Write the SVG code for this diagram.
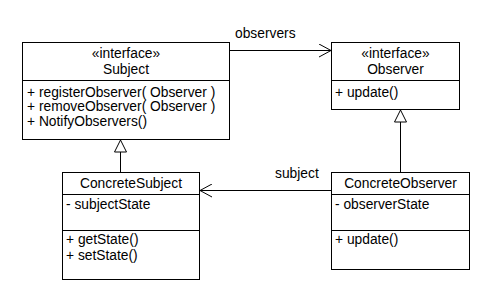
<svg xmlns="http://www.w3.org/2000/svg" width="490" height="300" viewBox="0 0 490 300">
<style>
.box{fill:#fff;stroke:#000;stroke-width:1}
.ln{stroke:#000;stroke-width:1;fill:none}
text{font-family:"Liberation Sans",Arial,sans-serif;font-size:13.8px;fill:#000}
.c{text-anchor:middle}
</style>
<defs>
<marker id="open" viewBox="0 0 12 14" refX="12" refY="7" markerWidth="12" markerHeight="14" markerUnits="userSpaceOnUse" orient="auto">
<path d="M0,0.5 L12,7 L0,13.5" fill="none" stroke="#000" stroke-width="1"/>
</marker>
<marker id="tri" viewBox="0 0 14 14" refX="13" refY="7" markerWidth="14" markerHeight="14" markerUnits="userSpaceOnUse" orient="auto">
<path d="M1,1 L13,7 L1,13 Z" fill="#fff" stroke="#000" stroke-width="1"/>
</marker>
</defs>
<rect width="490" height="300" fill="#fff"/>
<g id="connectors">
<line class="ln" x1="229.5" y1="50.5" x2="331" y2="50.5" marker-end="url(#open)"/>
<text x="235" y="38">observers</text>
<line class="ln" x1="331.5" y1="190.5" x2="200" y2="190.5" marker-end="url(#open)"/>
<text x="275" y="178">subject</text>
<line class="ln" x1="120.5" y1="172" x2="120.5" y2="140" marker-end="url(#tri)"/>
<line class="ln" x1="400.5" y1="172" x2="400.5" y2="110" marker-end="url(#tri)"/>
</g>
<g id="Subject">
<rect class="box" x="22.5" y="42.5" width="207" height="97"/>
<line class="ln" x1="22.5" y1="80.5" x2="229.5" y2="80.5"/>
<text class="c" x="126" y="58">«interface»</text>
<text class="c" x="126" y="74">Subject</text>
<text x="27" y="96.5">+ registerObserver( Observer )</text>
<text x="27" y="111">+ removeObserver( Observer )</text>
<text x="27" y="125.5">+ NotifyObservers()</text>
</g>
<g id="Observer">
<rect class="box" x="331.5" y="42.5" width="128" height="67"/>
<line class="ln" x1="331.5" y1="80.5" x2="459.5" y2="80.5"/>
<text class="c" x="395.5" y="58">«interface»</text>
<text class="c" x="395.5" y="74">Observer</text>
<text x="335" y="96.5">+ update()</text>
</g>
<g id="ConcreteSubject">
<rect class="box" x="62.5" y="172.5" width="137" height="107"/>
<line class="ln" x1="62.5" y1="194.5" x2="199.5" y2="194.5"/>
<line class="ln" x1="62.5" y1="230.5" x2="199.5" y2="230.5"/>
<text class="c" x="131" y="188">ConcreteSubject</text>
<text x="66" y="209">- subjectState</text>
<text x="66" y="244">+ getState()</text>
<text x="66" y="260">+ setState()</text>
</g>
<g id="ConcreteObserver">
<rect class="box" x="331.5" y="172.5" width="138" height="97"/>
<line class="ln" x1="331.5" y1="194.5" x2="469.5" y2="194.5"/>
<line class="ln" x1="331.5" y1="230.5" x2="469.5" y2="230.5"/>
<text class="c" x="400.5" y="188">ConcreteObserver</text>
<text x="335" y="209">- observerState</text>
<text x="335" y="244">+ update()</text>
</g>
</svg>
